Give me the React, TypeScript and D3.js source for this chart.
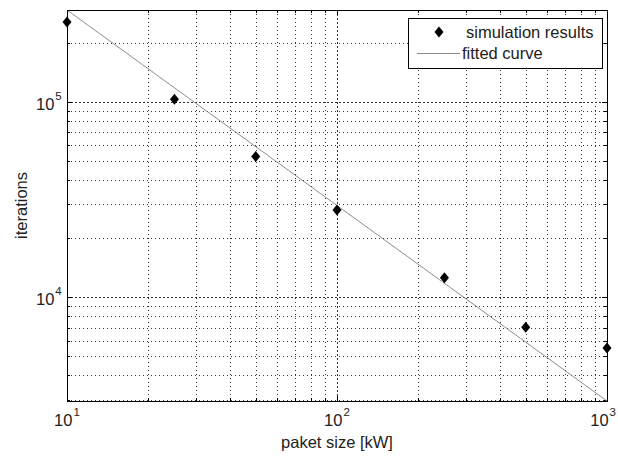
import React from "react";
import * as d3 from "d3";

const packetSizes = [10, 25, 50, 100, 250, 500, 1000];
const iterations = [256000, 103000, 52500, 28000, 12600, 7030, 5510];
const fitCoef = 2.95e6;
const fitExp = -1;
const legendLabels = ["simulation results", "fitted curve"];
const xTickExps = [1, 2, 3];
const yTickExps = [4, 5];
const xLabel = "paket size [kW]";
const yLabel = "iterations";

const W = 618, H = 456;
const L = 67, R = 607, T = 10, B = 401;
const FONT = "'Liberation Sans', Arial, sans-serif";

export default function App() {
  const fit = (x: number) => fitCoef * Math.pow(x, fitExp);
  const x = d3.scaleLog().domain([10, 1000]).range([L, R]);
  const y = d3.scaleLog().domain([fit(1000), fit(10)]).range([B, T]);
  const [y0, y1] = y.domain();

  const xMinor: number[] = [];
  for (let d = 10; d < 1000; d *= 10) for (let k = 2; k <= 9; k++) xMinor.push(k * d);
  const yMinor: number[] = [];
  for (let d = 1000; d < 1e6; d *= 10) for (let k = 2; k <= 9; k++) {
    const v = k * d;
    if (v > y0 && v < y1) yMinor.push(v);
  }
  const xMajor = xTickExps.map((e) => Math.pow(10, e));
  const yMajor = yTickExps.map((e) => Math.pow(10, e));
  const c = (v: number) => Math.round(v) + 0.5;

  const fitPts = d3.range(0, 101).map((i) => {
    const xv = Math.pow(10, 1 + (2 * i) / 100);
    return [x(xv), y(fit(xv))] as [number, number];
  });
  const line = d3.line();

  const diamond = (cx: number, cy: number) =>
    `M${cx},${cy - 5.5}L${cx + 4.5},${cy}L${cx},${cy + 5.5}L${cx - 4.5},${cy}Z`;

  return (
    <svg width={W} height={H} style={{ position: "absolute", left: 0, top: 0, background: "#fff" }}
      fontFamily={FONT}>
      <rect x={0} y={0} width={W} height={H} fill="#fff" />
      {/* grid */}
      <g stroke="#333" strokeWidth={1} shapeRendering="crispEdges">
        {xMinor.map((v) => (
          <line key={"gx" + v} x1={c(x(v))} x2={c(x(v))} y1={T} y2={B} strokeDasharray="1,3" />
        ))}
        {xMajor.filter((v) => x(v) > L + 1 && x(v) < R - 1).map((v) => (
          <line key={"gxM" + v} x1={c(x(v))} x2={c(x(v))} y1={T} y2={B} strokeDasharray="2,2" />
        ))}
        {yMinor.map((v) => (
          <line key={"gy" + v} x1={L} x2={R} y1={c(y(v))} y2={c(y(v))} strokeDasharray="1,3" />
        ))}
        {yMajor.map((v) => (
          <line key={"gyM" + v} x1={L} x2={R} y1={c(y(v))} y2={c(y(v))} strokeDasharray="2,2" />
        ))}
      </g>
      {/* ticks */}
      <g stroke="#000" strokeWidth={1} shapeRendering="crispEdges">
        {xMinor.map((v) => (
          <g key={"tx" + v}>
            <line x1={c(x(v))} x2={c(x(v))} y1={B} y2={B - 3} />
            <line x1={c(x(v))} x2={c(x(v))} y1={T} y2={T + 3} />
          </g>
        ))}
        {xMajor.map((v) => (
          <g key={"txM" + v}>
            <line x1={c(x(v))} x2={c(x(v))} y1={B} y2={B - 5} />
            <line x1={c(x(v))} x2={c(x(v))} y1={T} y2={T + 5} />
          </g>
        ))}
        {yMinor.map((v) => (
          <g key={"ty" + v}>
            <line x1={L} x2={L + 3} y1={c(y(v))} y2={c(y(v))} />
            <line x1={R} x2={R - 3} y1={c(y(v))} y2={c(y(v))} />
          </g>
        ))}
        {yMajor.map((v) => (
          <g key={"tyM" + v}>
            <line x1={L} x2={L + 5} y1={c(y(v))} y2={c(y(v))} />
            <line x1={R} x2={R - 5} y1={c(y(v))} y2={c(y(v))} />
          </g>
        ))}
      </g>
      {/* fitted curve */}
      <path d={line(fitPts) || ""} fill="none" stroke="#8a8a8a" strokeWidth={1} />
      {/* data */}
      {packetSizes.map((p, i) => (
        <path key={"d" + p} d={diamond(x(p), y(iterations[i]))} fill="#000" />
      ))}
      {/* axes box */}
      <rect x={c(L)} y={c(T)} width={R - L} height={B - T} fill="none" stroke="#000" strokeWidth={1}
        shapeRendering="crispEdges" />
      {/* x tick labels */}
      {xTickExps.map((e) => {
        const px = x(Math.pow(10, e));
        const atEdge = px + 14 > W;
        return (
          <text key={"xl" + e} x={atEdge ? W - 2 : px} y={426} fontSize={16.5} fill="#222"
            textAnchor={atEdge ? "end" : "middle"}>
            10
            <tspan fontSize={11.5} dx={1} dy={-10}>{e}</tspan>
          </text>
        );
      })}
      {/* y tick labels */}
      {yTickExps.map((e) => {
        const py = y(Math.pow(10, e));
        return (
          <text key={"yl" + e} x={36} y={py + 8} fontSize={16.5} fill="#222">
            10
            <tspan fontSize={11.5} dx={1} dy={-10}>{e}</tspan>
          </text>
        );
      })}
      {/* axis labels */}
      <text x={(L + R) / 2} y={448} fontSize={16.5} fill="#222" textAnchor="middle">{xLabel}</text>
      <text transform={`translate(27,${(T + B) / 2}) rotate(-90)`} fontSize={16.5} fill="#222" textAnchor="middle">
        {yLabel}
      </text>
      {/* legend */}
      <rect x={408.5} y={18.5} width={194} height={50} fill="#fff" stroke="#000" strokeWidth={1}
        shapeRendering="crispEdges" />
      <path d={diamond(439, 32)} fill="#000" />
      <text x={466} y={38} fontSize={16.5} fill="#222">{legendLabels[0]}</text>
      <line x1={417} x2={460} y1={53.5} y2={53.5} stroke="#8a8a8a" strokeWidth={1} />
      <text x={462} y={59} fontSize={16.5} fill="#222">{legendLabels[1]}</text>
    </svg>
  );
}
